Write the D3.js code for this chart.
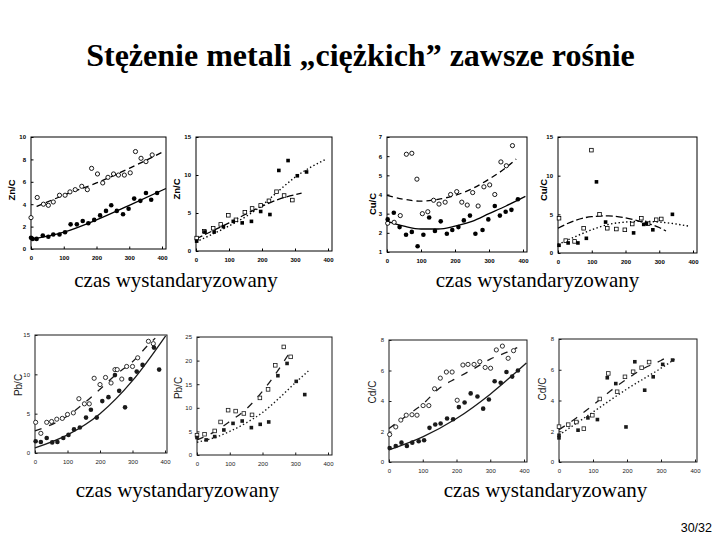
<!DOCTYPE html>
<html><head><meta charset="utf-8">
<script src="https://cdn.jsdelivr.net/npm/d3@7"></script>
<style>body{margin:0;background:#fff} svg{display:block}</style>
</head><body>
<svg id="c" width="720" height="540"></svg>
<script>
// ---------- DATA ----------
const titleText = "Stężenie metali „ciężkich” zawsze rośnie";
const captionText = "czas wystandaryzowany";
const pageText = "30/32";
const xTicks = [0,100,200,300,400];

// Zn/C (left)
const zn1Open = [[0,2.8],[19,4.6],[38,4.0],[53,3.9],[68,4.2],[87,4.8],[104,4.8],[119,5.1],[135,5.3],[155,5.6],[172,5.3],[185,7.2],[203,6.7],[219,5.9],[235,6.4],[252,6.7],[267,6.6],[285,6.6],[303,6.8],[319,8.7],[336,8.1],[351,7.8],[370,8.4]];
const zn1Filled = [[0,1.0],[5,0.9],[17,0.9],[36,1.2],[53,1.1],[68,1.3],[87,1.3],[104,1.5],[121,2.2],[140,2.2],[158,2.5],[175,2.3],[193,2.6],[211,3.0],[229,3.4],[245,3.9],[262,3.4],[281,3.1],[298,3.6],[315,4.5],[334,4.3],[351,5.0],[367,4.4],[385,5.0]];
const zn1Dash = [[17,3.8],[100,4.8],[200,5.9],[300,7.2],[405,8.7]];
const zn1Solid = [[0,0.85],[100,1.5],[200,2.6],[300,3.9],[412,5.4]];
// Zn/C (right)
const zn2Open = [[2,1.7],[25,2.6],[52,3.0],[75,3.5],[98,4.7],[121,4.1],[148,5.1],[170,5.6],[196,6.0],[221,6.6],[244,7.8],[267,7.3],[292,6.7]];
const zn2Filled = [[2,1.3],[27,2.5],[55,2.5],[83,3.2],[113,3.9],[140,3.7],[168,3.9],[196,5.2],[224,4.8],[251,10.6],[279,11.9],[307,9.9],[335,10.4]];
const zn2DashDot = [[0,1.6],[100,3.7],[200,5.9],[250,6.8],[320,7.6]];
const zn2Dotted = [[0,1.2],[100,3.3],[150,4.5],[200,6.0],[250,7.9],[300,9.7],[395,12.1]];
// Cu/C (left)
const cu1Open = [[2,2.5],[21,2.55],[39,2.9],[57,6.1],[73,6.15],[88,4.8],[104,3.0],[120,3.1],[137,3.7],[153,3.5],[171,3.6],[187,4.0],[205,4.15],[220,3.6],[236,3.45],[252,4.1],[268,3.4],[285,4.4],[302,4.5],[317,4.0],[335,5.7],[351,5.5],[369,6.55]];
const cu1Filled = [[2,2.7],[20,3.05],[37,2.3],[56,1.9],[73,2.05],[90,1.3],[107,1.9],[124,2.8],[141,2.1],[158,2.6],[176,1.95],[192,2.15],[210,2.3],[226,2.65],[244,2.9],[260,1.95],[281,2.15],[298,2.7],[317,3.4],[332,2.9],[349,3.1],[366,3.2],[385,3.75]];
const cu1Solid = [[0,2.6],[50,2.35],[100,2.2],[150,2.2],[200,2.35],[250,2.6],[300,3.0],[350,3.4],[407,3.9]];
const cu1Dash = [[0,3.95],[50,3.75],[100,3.65],[150,3.75],[200,3.95],[250,4.3],[300,4.8],[350,5.4],[380,5.85]];
// Cu/C (right)
const cu2Open = [[3,4.5],[23,1.6],[49,1.5],[76,3.2],[99,13.3],[123,5.0],[146,3.2],[173,3.1],[198,3.0],[220,3.75],[247,4.5],[267,3.8],[291,4.3],[306,4.4]];
const cu2Filled = [[3,1.0],[30,1.3],[59,1.3],[84,1.9],[114,9.2],[141,4.0],[224,2.6],[254,3.7],[262,3.8],[281,3.0],[339,5.0]];
const cu2DashDot = [[0,3.2],[50,4.2],[100,4.7],[150,4.8],[200,4.55],[250,4.0],[300,3.3],[320,2.85]];
const cu2Dotted = [[0,1.1],[50,2.1],[100,3.0],[150,3.7],[200,4.0],[250,4.1],[300,4.0],[350,3.75],[390,3.45]];
// Pb/C (left)
const pb1Open = [[2,3.9],[18,2.5],[36,3.9],[51,4.0],[67,4.3],[84,4.4],[100,4.9],[118,5.1],[135,6.9],[152,6.25],[167,6.25],[182,9.5],[200,8.7],[217,9.6],[234,8.9],[246,10.6],[253,10.6],[267,9.4],[282,11.0],[300,11.0],[316,12.1],[349,14.2],[364,13.9]];
const pb1Filled = [[2,1.5],[18,1.4],[36,1.9],[53,1.35],[69,1.4],[87,1.9],[103,2.3],[120,3.0],[138,3.25],[157,4.5],[172,5.5],[190,4.5],[207,6.6],[226,7.1],[246,9.9],[259,7.9],[277,5.8],[294,9.4],[313,10.35],[331,11.2],[366,13.4],[382,10.6]];
const pb1Solid = [[0,0.65],[100,2.3],[200,5.0],[300,9.2],[402,14.9]];
const pb1Dash = [[0,2.8],[100,4.7],[150,6.3],[200,8.1],[250,10.0],[300,11.6],[350,13.8],[370,14.6]];
// Pb/C (right)
const pb2Open = [[0,4.2],[23,4.4],[54,5.1],[72,7.0],[95,9.5],[118,9.3],[143,8.8],[168,8.5],[192,12.1],[217,13.9],[239,19.0],[265,22.9],[286,20.8]];
const pb2Filled = [[0,3.7],[28,3.2],[54,3.9],[82,5.3],[110,6.7],[138,7.2],[166,5.8],[193,6.5],[219,7.0],[247,16.8],[275,19.4],[303,15.6],[329,12.8]];
const pb2DashDot = [[0,3.2],[50,4.8],[100,7.1],[150,9.7],[200,13.5],[250,18.2],[290,22.5]];
const pb2Dotted = [[0,2.7],[50,3.6],[100,5.0],[150,6.8],[200,9.0],[250,12.0],[300,15.3],[340,17.8]];
// Cd/C (left)
const cd1Open = [[2,1.8],[20,2.3],[35,2.75],[51,3.07],[68,3.1],[83,3.07],[101,3.7],[118,3.7],[135,4.8],[152,5.5],[170,5.9],[187,5.9],[202,4.05],[219,6.36],[234,6.4],[252,6.4],[269,6.58],[285,6.2],[301,6.15],[318,7.35],[336,7.6],[353,6.8],[369,7.3]];
const cd1Filled = [[2,0.92],[20,1.05],[37,1.27],[53,1.05],[69,1.27],[88,1.36],[104,1.43],[120,2.24],[137,2.46],[153,2.52],[172,2.85],[190,2.8],[207,3.6],[224,3.9],[242,4.5],[262,4.3],[279,3.5],[296,4.1],[313,5.3],[331,5.2],[348,5.9],[365,5.6],[382,6.0]];
const cd1Solid = [[0,0.8],[100,1.65],[200,2.85],[300,4.45],[407,6.5]];
const cd1Dash = [[0,2.2],[50,3.0],[100,3.8],[150,4.85],[200,5.5],[250,6.1],[300,6.75],[350,7.2],[380,7.5]];
// Cd/C (right)
const cd2Open = [[0,2.3],[27,2.43],[51,2.6],[73,2.17],[98,3.04],[120,4.1],[145,5.76],[171,4.57],[194,5.54],[218,5.87],[243,6.13],[265,6.5]];
const cd2Filled = [[0,1.57],[0,1.74],[56,2.07],[85,2.87],[113,2.76],[142,5.48],[167,5.1],[197,2.28],[223,6.52],[252,4.67],[277,5.54],[305,6.35],[334,6.63]];
const cd2DashDot = [[0,2.1],[50,2.85],[100,3.7],[150,4.6],[200,5.4],[250,6.1],[300,6.6],[320,6.85]];
const cd2Dotted = [[0,1.75],[100,3.25],[200,4.75],[300,6.1],[345,6.75]];

const yTicksZn1 = [0,2,4,6,8,10];
const yTicks15 = [0,5,10,15];
const yTicksCu1 = [1,2,3,4,5,6,7];
const yTicksPb2 = [0,5,10,15,20,25];
const yTicksCd = [0,2,4,6,8];

// ---------- LAYOUT ----------
const DASH='6,4', DASHB='7,8', LDASH='7,3', DOT='1.4,2.4';
const panels = [
 {label:'Zn/C', yDom:[0,10], yTicks:yTicksZn1, l:31,x4:162,r:166,t:137,b:249, labX:12,labY:190, top:true, mk:'circle',
  open:zn1Open, filled:zn1Filled, lOpen:zn1Dash, lFilled:zn1Solid, dOpen:DASH, dFilled:null},
 {label:'Zn/C', yDom:[0,15], yTicks:yTicks15, l:196,x4:328,r:332,t:137,b:251, labX:177,labY:189, top:true, mk:'square',
  open:zn2Open, filled:zn2Filled, lOpen:zn2DashDot, lFilled:zn2Dotted, dOpen:LDASH, dFilled:DOT},
 {label:'Cu/C', yDom:[1,7], yTicks:yTicksCu1, l:387,x4:523,r:527,t:137,b:252, labX:373,labY:204, top:true, mk:'circle',
  open:cu1Open, filled:cu1Filled, lOpen:cu1Dash, lFilled:cu1Solid, dOpen:DASH, dFilled:null},
 {label:'Cu/C', yDom:[0,15], yTicks:yTicks15, l:558,x4:693,r:697,t:137,b:253, labX:544,labY:190, top:true, mk:'square',
  open:cu2Open, filled:cu2Filled, lOpen:cu2DashDot, lFilled:cu2Dotted, dOpen:LDASH, dFilled:DOT},
 {label:'Pb/C', yDom:[0,15], yTicks:yTicks15, l:35,x4:165,r:167,t:335,b:453, labX:18,labY:385, top:false, mk:'circle',
  open:pb1Open, filled:pb1Filled, lOpen:pb1Dash, lFilled:pb1Solid, dOpen:DASHB, dFilled:null},
 {label:'Pb/C', yDom:[0,25], yTicks:yTicksPb2, l:197,x4:328,r:332,t:337,b:455, labX:178,labY:388, top:false, mk:'square',
  open:pb2Open, filled:pb2Filled, lOpen:pb2DashDot, lFilled:pb2Dotted, dOpen:DASHB, dFilled:DOT},
 {label:'Cd/C', yDom:[0,8], yTicks:yTicksCd, l:389,x4:524,r:527,t:340,b:462, labX:372,labY:392, top:false, mk:'circle',
  open:cd1Open, filled:cd1Filled, lOpen:cd1Dash, lFilled:cd1Solid, dOpen:DASHB, dFilled:null},
 {label:'Cd/C', yDom:[0,8], yTicks:yTicksCd, l:559,x4:695,r:697,t:339,b:462, labX:542,labY:389, top:false, mk:'square',
  open:cd2Open, filled:cd2Filled, lOpen:cd2DashDot, lFilled:cd2Dotted, dOpen:DASHB, dFilled:DOT}
];

const svg = d3.select('#c');
svg.append('rect').attr('width',720).attr('height',540).attr('fill','#fff');

svg.append('text').attr('x',360.5).attr('y',66).attr('text-anchor','middle')
  .attr('font-family','"Liberation Serif","Times New Roman",serif').attr('font-weight','bold')
  .attr('font-size',32).attr('fill','#000').text(titleText);

[[176,287],[537.5,287],[177.5,497],[545.5,497]].forEach(([cx,cy])=>{
  svg.append('text').attr('x',cx).attr('y',cy).attr('text-anchor','middle')
    .attr('font-family','"Liberation Serif","Times New Roman",serif')
    .attr('font-size',21).attr('fill','#000').text(captionText);
});
svg.append('text').attr('x',712).attr('y',532).attr('text-anchor','end')
  .attr('font-family','"Liberation Sans",Arial,sans-serif').attr('font-size',12.5)
  .attr('fill','#000').text(pageText);

const fmt = d3.format('d');
panels.forEach(p=>{
  const g = svg.append('g');
  const ink = p.top ? '#000' : '#1a1a1a';
  const x = d3.scaleLinear().domain([0,400]).range([p.l,p.x4]);
  const y = d3.scaleLinear().domain(p.yDom).range([p.b,p.t]);
  const font = '"Liberation Sans",Arial,sans-serif';
  g.append('rect').attr('x',p.l).attr('y',p.t).attr('width',p.r-p.l).attr('height',p.b-p.t)
    .attr('fill','none').attr('stroke',ink).attr('stroke-width',1);
  const ax = g.append('g').attr('transform',`translate(0,${p.b})`)
    .call(d3.axisBottom(x).tickValues(xTicks).tickFormat(fmt).tickSize(-2.5).tickSizeOuter(0).tickPadding(6.5));
  const ay = g.append('g').attr('transform',`translate(${p.l},0)`)
    .call(d3.axisLeft(y).tickValues(p.yTicks).tickFormat(fmt).tickSize(-2.5).tickSizeOuter(0).tickPadding(5));
  [ax,ay].forEach(a=>{
    a.select('.domain').remove();
    a.selectAll('line').attr('stroke',ink);
    a.selectAll('text').attr('font-family',font).attr('font-size',6)
      .attr('font-weight',p.top?'bold':'normal').attr('fill',ink);
  });
  g.append('text').attr('transform',`translate(${p.labX},${p.labY}) rotate(-90)`)
    .attr('text-anchor','middle').attr('dy','0.35em')
    .attr('font-family',font).attr('font-size',p.top?9.5:10).attr('font-weight',p.top?'bold':'normal')
    .attr('fill',ink).text(p.label);

  const line = d3.line().x(d=>x(d[0])).y(d=>y(d[1])).curve(d3.curveMonotoneX);
  g.append('path').attr('d',line(p.lOpen)).attr('fill','none').attr('stroke',ink)
    .attr('stroke-width',1.3).attr('stroke-dasharray',p.dOpen);
  g.append('path').attr('d',line(p.lFilled)).attr('fill','none').attr('stroke',ink)
    .attr('stroke-width',p.dFilled?1.4:1.3).attr('stroke-dasharray',p.dFilled);

  if(p.mk==='circle'){
    g.selectAll(null).data(p.open).join('circle').attr('cx',d=>x(d[0])).attr('cy',d=>y(d[1]))
      .attr('r',2.1).attr('fill','#fff').attr('stroke',ink).attr('stroke-width',0.9);
    g.selectAll(null).data(p.filled).join('circle').attr('cx',d=>x(d[0])).attr('cy',d=>y(d[1]))
      .attr('r',2.3).attr('fill',ink);
  } else {
    const s=3.6;
    g.selectAll(null).data(p.open).join('rect').attr('x',d=>x(d[0])-s/2).attr('y',d=>y(d[1])-s/2)
      .attr('width',s).attr('height',s).attr('fill','#fff').attr('stroke',ink).attr('stroke-width',0.8);
    g.selectAll(null).data(p.filled).join('rect').attr('x',d=>x(d[0])-s/2).attr('y',d=>y(d[1])-s/2)
      .attr('width',s).attr('height',s).attr('fill',ink);
  }
});
</script>
</body></html>
